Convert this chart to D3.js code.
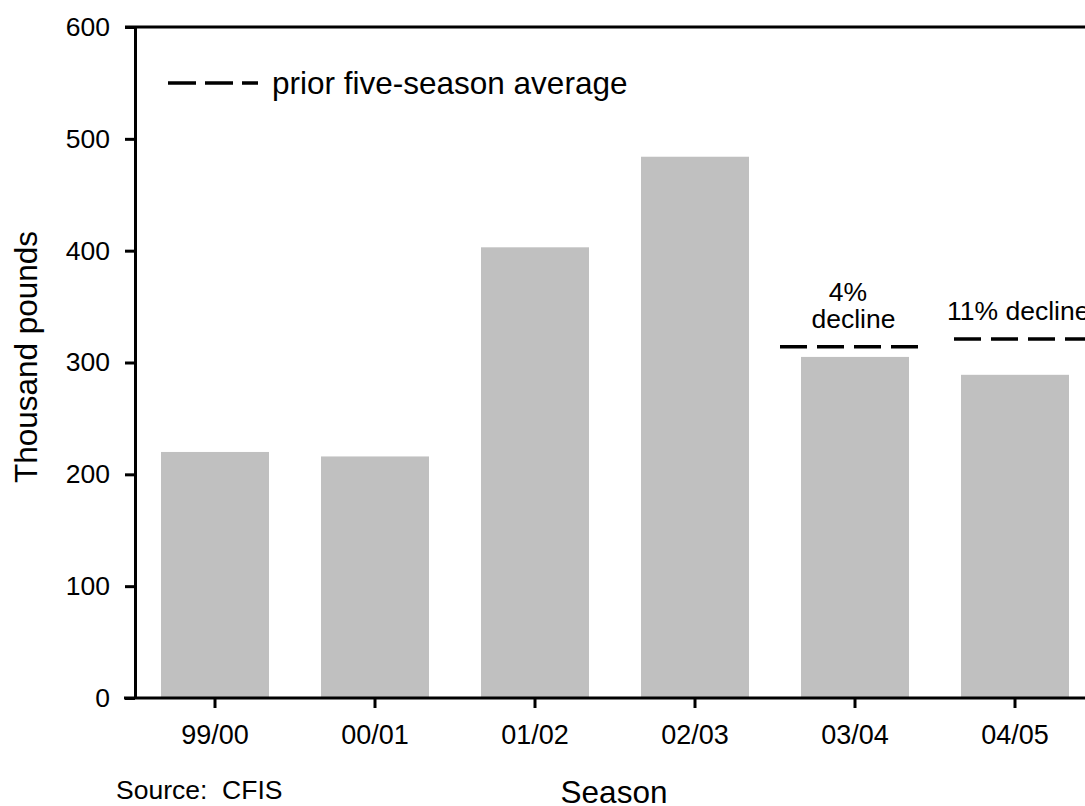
<!DOCTYPE html>
<html>
<head>
<meta charset="utf-8">
<script src="https://cdn.jsdelivr.net/npm/d3@7"></script>
<style>
  html, body { margin: 0; padding: 0; background: #fff; }
  svg { display: block; }
  text { font-family: "Liberation Sans", Arial, Helvetica, sans-serif; fill: #000; white-space: pre; }
</style>
</head>
<body>
<svg id="chart" width="1085" height="806"></svg>
<script>
// ---- data ----
const seasons = ["99/00", "00/01", "01/02", "02/03", "03/04", "04/05"];
const values = [220, 216, 403, 484, 305, 289];
const yTicks = [0, 100, 200, 300, 400, 500, 600];
const avgSeasons = ["03/04", "04/05"];
const avgValues = [314, 321];
const avgLabels = [["4%", "decline"], ["11% decline"]];
const legendLabel = "prior five-season average";
const yTitle = "Thousand pounds";
const xTitle = "Season";
const sourceNote = "Source:  CFIS";

// ---- layout ----
const svg = d3.select("#chart");
const mLeft = 135, mRight = 1095, mTop = 27, mBottom = 698;
const font = "Liberation Sans, Arial, sans-serif";

const x = d3.scaleBand().domain(seasons).range([mLeft, mRight])
  .paddingInner(0.325).paddingOuter(0.1625);
const y = d3.scaleLinear().domain([0, 600]).range([mBottom, mTop]);

// bars
svg.append("g").selectAll("rect").data(seasons).join("rect")
  .attr("x", d => x(d))
  .attr("width", x.bandwidth())
  .attr("y", (d, i) => y(values[i]))
  .attr("height", (d, i) => y(0) - y(values[i]))
  .attr("fill", "#c0c0c0");

// y axis
const yAxis = svg.append("g").attr("transform", `translate(${mLeft},0)`)
  .call(d3.axisLeft(y).tickValues(yTicks).tickSize(10).tickPadding(15).tickSizeOuter(0));
yAxis.select(".domain").attr("stroke", "#000").attr("stroke-width", 3);
yAxis.selectAll(".tick line").attr("stroke", "#000").attr("stroke-width", 3);
yAxis.selectAll(".tick text").style("font-size", "26.5px").style("font-family", font);

// x axis
const xAxis = svg.append("g").attr("transform", `translate(0,${mBottom})`)
  .call(d3.axisBottom(x).tickSize(10).tickPadding(17).tickSizeOuter(0));
xAxis.select(".domain").attr("stroke", "#000").attr("stroke-width", 3)
  .attr("d", `M${mLeft - 11},0H${mRight}`);
xAxis.selectAll(".tick line").attr("stroke", "#000").attr("stroke-width", 3);
xAxis.selectAll(".tick text").style("font-size", "27px").style("font-family", font);

// top frame line
svg.append("line")
  .attr("x1", mLeft - 10).attr("x2", mRight)
  .attr("y1", y(600)).attr("y2", y(600))
  .attr("stroke", "#000").attr("stroke-width", 3);
// right frame line
svg.append("line")
  .attr("x1", mRight).attr("x2", mRight)
  .attr("y1", y(600)).attr("y2", y(0))
  .attr("stroke", "#000").attr("stroke-width", 3);

// average dashed lines + labels
const dashOffsets = [[-75, 65], [-61, 79]];
avgSeasons.forEach((s, i) => {
  const cx = x(s) + x.bandwidth() / 2;
  svg.append("line")
    .attr("x1", cx + dashOffsets[i][0]).attr("x2", cx + dashOffsets[i][1])
    .attr("y1", y(avgValues[i])).attr("y2", y(avgValues[i]))
    .attr("stroke", "#000").attr("stroke-width", 3.5)
    .attr("stroke-dasharray", "27,10");
});
// 4% decline (two lines)
{
  const cx = x(avgSeasons[0]) + x.bandwidth() / 2;
  const ly = y(avgValues[0]);
  svg.append("text").attr("x", cx - 7).attr("y", ly - 46)
    .attr("text-anchor", "middle").style("font-size", "26.5px").text(avgLabels[0][0]);
  svg.append("text").attr("x", cx - 1.5).attr("y", ly - 19)
    .attr("text-anchor", "middle").style("font-size", "26.5px").text(avgLabels[0][1]);
}
// 11% decline
{
  const cx = x(avgSeasons[1]) + x.bandwidth() / 2;
  const ly = y(avgValues[1]);
  svg.append("text").attr("x", cx - 68).attr("y", ly - 19)
    .attr("text-anchor", "start").style("font-size", "26.5px").text(avgLabels[1][0]);
}

// legend
svg.append("line")
  .attr("x1", 168).attr("x2", 258).attr("y1", 83).attr("y2", 83)
  .attr("stroke", "#000").attr("stroke-width", 3.5)
  .attr("stroke-dasharray", "28,9");
svg.append("text").attr("x", 272).attr("y", 94)
  .style("font-size", "31.5px").text(legendLabel);

// axis titles
svg.append("text")
  .attr("transform", `translate(37,357) rotate(-90)`)
  .attr("text-anchor", "middle").style("font-size", "31.5px").text(yTitle);
svg.append("text").attr("x", 614).attr("y", 803)
  .attr("text-anchor", "middle").style("font-size", "31.5px").text(xTitle);

// source
svg.append("text").attr("x", 116).attr("y", 799)
  .style("font-size", "26.5px").text(sourceNote);
</script>
</body>
</html>
